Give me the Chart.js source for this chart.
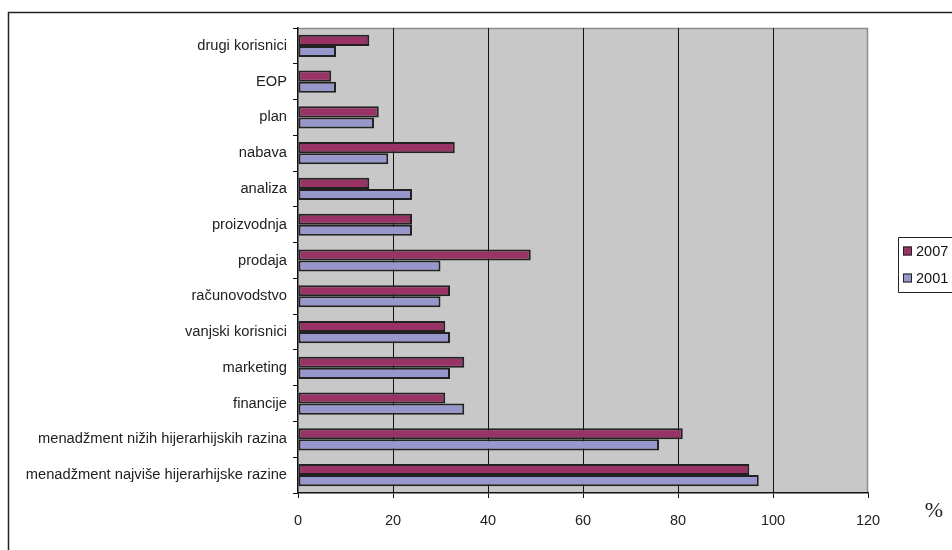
<!DOCTYPE html>
<html>
<head>
<meta charset="utf-8">
<script src="https://cdn.jsdelivr.net/npm/chart.js@4"></script>
<style>
  html, body { margin: 0; padding: 0; background: #fff; }
  #wrap { width: 952px; height: 550px; }
</style>
</head>
<body>
<div id="wrap"><canvas id="chart" width="952" height="550"></canvas></div>
<script>
const categories = [
    'drugi korisnici',
    'EOP',
    'plan',
    'nabava',
    'analiza',
    'proizvodnja',
    'prodaja',
    'računovodstvo',
    'vanjski korisnici',
    'marketing',
    'financije',
    'menadžment nižih hijerarhijskih razina',
    'menadžment najviše hijerarhijske razine'
];
const values2007 = [15, 7, 17, 33, 15, 24, 49, 32, 31, 35, 31, 81, 95];
const values2001 = [8, 8, 16, 19, 24, 24, 30, 30, 32, 32, 35, 76, 97];
const xTicks = [0, 20, 40, 60, 80, 100, 120];

const FONT = 'Liberation Sans, Arial, sans-serif';

// grey plot area, outer frame, legend box and the % unit
const frame = {
    id: 'frame',
    beforeDraw(chart) {
        const {ctx, chartArea: a} = chart;
        ctx.save();
        ctx.fillStyle = '#c8c8c8';
        ctx.fillRect(a.left, a.top, a.right - a.left, a.bottom - a.top);
        ctx.strokeStyle = '#8c8c8c';
        ctx.lineWidth = 1.5;
        ctx.beginPath();
        ctx.moveTo(a.left, a.top + 0.5);
        ctx.lineTo(a.right - 0.5, a.top + 0.5);
        ctx.lineTo(a.right - 0.5, a.bottom);
        ctx.stroke();
        ctx.restore();
    },
    afterDraw(chart) {
        const ctx = chart.ctx;
        ctx.save();
        ctx.strokeStyle = '#222';
        ctx.lineWidth = 1.5;
        ctx.beginPath();
        ctx.moveTo(952, 12.5);
        ctx.lineTo(8.5, 12.5);
        ctx.lineTo(8.5, 550);
        ctx.stroke();

        // legend
        ctx.lineWidth = 1;
        ctx.strokeStyle = '#222';
        ctx.beginPath();
        ctx.moveTo(952, 237.5);
        ctx.lineTo(898.5, 237.5);
        ctx.lineTo(898.5, 292.5);
        ctx.lineTo(952, 292.5);
        ctx.stroke();
        ctx.font = '14.5px ' + FONT;
        ctx.textBaseline = 'middle';
        chart.data.datasets.forEach((ds, i) => {
            const y = 251 + i * 27;
            ctx.fillStyle = ds.backgroundColor;
            ctx.fillRect(903, y - 4.5, 9, 9);
            ctx.strokeStyle = '#222';
            ctx.strokeRect(903.5, y - 4, 8, 8);
            ctx.fillStyle = '#111';
            ctx.fillText(ds.label, 916, y + 1);
        });

        ctx.font = '22px Liberation Serif, serif';
        ctx.textAlign = 'center';
        ctx.fillStyle = '#222';
        ctx.fillText('%', 934, 511);
        ctx.restore();
    }
};

new Chart(document.getElementById('chart'), {
    type: 'bar',
    data: {
        labels: categories,
        datasets: [
            {
                label: '2007',
                data: values2007,
                backgroundColor: '#993366',
                borderColor: '#222',
                borderWidth: 2,
                borderSkipped: false,
                barPercentage: 1,
                categoryPercentage: 0.62
            },
            {
                label: '2001',
                data: values2001,
                backgroundColor: '#9797cc',
                borderColor: '#222',
                borderWidth: 2,
                borderSkipped: false,
                barPercentage: 1,
                categoryPercentage: 0.62
            }
        ]
    },
    options: {
        indexAxis: 'y',
        responsive: false,
        animation: false,
        layout: {padding: {top: 28, right: 84, left: 0, bottom: 0}},
        plugins: {
            legend: {display: false},
            tooltip: {enabled: false}
        },
        scales: {
            x: {
                min: 0,
                max: 120,
                afterFit(scale) { scale.height = 57; },
                afterBuildTicks(scale) { scale.ticks = xTicks.map(v => ({value: v})); },
                border: {color: '#111', width: 1.5},
                grid: {
                    color: ctx => ctx.tick && (ctx.tick.value === 0 || ctx.tick.value === 120) ? 'rgba(0,0,0,0)' : '#111',
                    tickColor: '#111',
                    tickLength: 5,
                    lineWidth: 1
                },
                ticks: {
                    color: '#222',
                    padding: 14,
                    font: {family: FONT, size: 14.5}
                }
            },
            y: {
                afterFit(scale) { scale.width = 298; },
                border: {color: '#111', width: 1.5},
                grid: {
                    offset: true,
                    drawOnChartArea: false,
                    tickColor: '#111',
                    tickLength: 5
                },
                ticks: {
                    color: '#222',
                    padding: 6,
                    font: {family: FONT, size: 14.7}
                }
            }
        }
    },
    plugins: [frame]
});
</script>
</body>
</html>
